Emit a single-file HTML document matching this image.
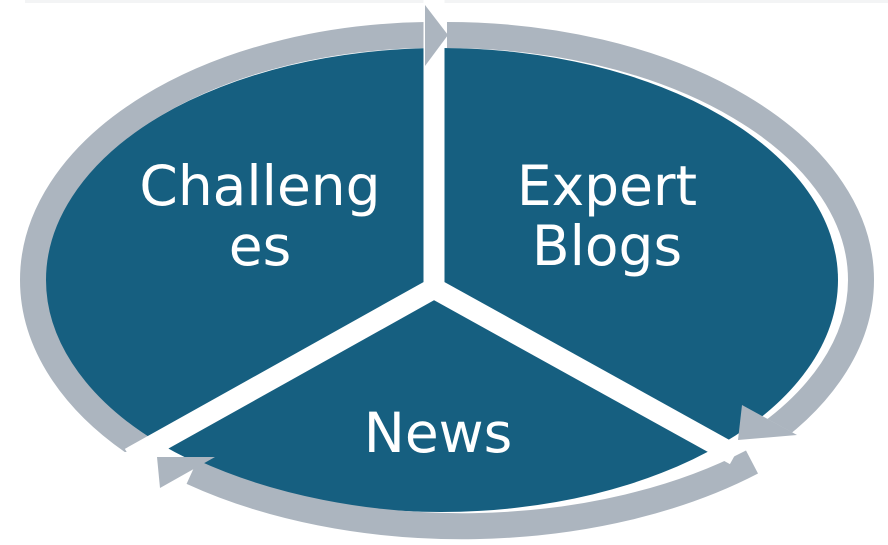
<!DOCTYPE html>
<html><head><style>body{margin:0;background:#fff}svg{display:block}</style></head><body>
<svg width="888" height="545" viewBox="0 0 888 545">
<defs>
<clipPath id="cl"><polygon points="0,0 425,0 425,290 140,452 0,452"/></clipPath>
<clipPath id="cr"><polygon points="447,0 888,0 888,485 742,405 447,290"/></clipPath>
</defs>
<rect x="25" y="0" width="863" height="3" fill="#f3f4f5"/>
<ellipse cx="441" cy="280" rx="397" ry="232" fill="#165f80"/>
<g fill="none" stroke="#acb5bf" stroke-width="26">
<ellipse cx="434" cy="280" rx="401" ry="245" clip-path="url(#cl)"/>
<ellipse cx="447" cy="280" rx="414" ry="245" clip-path="url(#cr)"/>
<path d="M 752 462 A 430 245 0 0 1 192 472"/>
</g>
<g stroke="#fff" stroke-width="21" stroke-linecap="butt">
<line x1="434" y1="0" x2="434" y2="292"/>
<line x1="430" y1="286" x2="735" y2="455"/>
<line x1="438" y1="286" x2="130" y2="458"/>
</g>
<g fill="#acb5bf">
<polygon points="425,5 448,35 425,66"/>
<polygon points="742,405 797,435 738,440"/>
<polygon points="157,457 215,457 160,488"/>
</g>
<g fill="#fff" font-family="DejaVu Sans, Liberation Sans, sans-serif" font-size="55" text-anchor="middle">
<text x="260" y="205">Challeng</text>
<text x="260" y="265">es</text>
<text x="607" y="205">Expert</text>
<text x="607" y="265">Blogs</text>
<text x="438" y="452">News</text>
</g>
</svg>
</body></html>
